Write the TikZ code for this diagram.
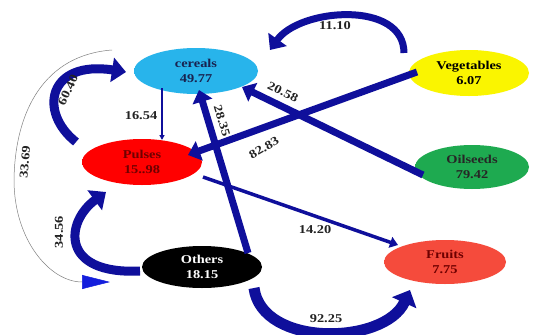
\documentclass[tikz,border=0pt]{standalone}
\usepackage{fontspec}
\setmainfont{Liberation Serif}[FakeStretch=1.2]
\usetikzlibrary{arrows.meta,shapes.geometric}
\definecolor{ab}{RGB}{15,15,155}
\definecolor{tipblue}{RGB}{20,30,220}
\definecolor{cerc}{RGB}{40,180,235}
\definecolor{vegc}{RGB}{250,245,0}
\definecolor{pulc}{RGB}{255,0,0}
\definecolor{oilc}{RGB}{30,170,80}
\definecolor{othc}{RGB}{0,0,0}
\definecolor{fruc}{RGB}{245,75,60}
\definecolor{certext}{RGB}{25,35,80}
\definecolor{redtext}{RGB}{110,0,0}
\definecolor{labtext}{RGB}{35,35,35}
\colorlet{fuzzc}{red}
\pgfdeclareradialshading[fuzzc]{fuzzy}{\pgfpoint{0bp}{0bp}}{color(0bp)=(fuzzc);color(30bp)=(fuzzc);color(42bp)=(fuzzc!70!white);color(50bp)=(fuzzc!10!white)}
\newcommand{\nodefont}{\fontsize{12}{14.5}\selectfont\bfseries}
\tikzset{
  blob/.style={ellipse, inner sep=0pt, align=center, font=\nodefont,
    /utils/exec={\colorlet{fuzzc}{#1}}, shading=fuzzy, shade},
  lab/.style={font=\nodefont, text=labtext, inner sep=0pt},
  bar/.style={draw=ab, line width=7pt, -{Triangle[length=12pt,width=20pt]}},
  band/.style={draw=ab, line width=#1},
  slim/.style={draw=ab, line width=1.2pt, -{Triangle[length=5pt,width=5pt]}},
}
\begin{document}
\begin{tikzpicture}[x=1pt,y=-1pt]
\useasboundingbox[fill=white] (0,0) rectangle (539,335);
% nodes
\node[blob=cerc, minimum width=124pt, minimum height=46pt, text=certext] (cer) at (196,71) {cereals\\49.77};
\node[blob=vegc, minimum width=120pt, minimum height=46pt, text=black] (veg) at (469,73) {Vegetables\\6.07};
\node[blob=pulc, minimum width=120pt, minimum height=46pt, text=redtext] (pul) at (142,162) {Pulses\\15..98};
\node[blob=oilc, minimum width=114pt, minimum height=44pt, text=black!85] (oil) at (472,167) {Oilseeds\\79.42};
\node[blob=othc, minimum width=120pt, minimum height=42pt, text=white] (oth) at (202,267) {Others\\18.15};
\node[blob=fruc, minimum width=122pt, minimum height=44pt, text=redtext] (fru) at (445,262) {Fruits\\7.75};
% thin curved 33.69
\draw[gray, line width=0.5pt, -{Triangle[length=28pt,width=14pt,color=tipblue]}]
  ([shift={(-84,-21)}]cer.center) .. controls (45,55) and (15,110) .. (14,180)
  .. controls (14,240) and (50,282) .. ([shift={(-92,15)}]oth.center);
% curved thick arrows
\draw[band=7pt, -{Triangle[length=13pt,width=22pt]}]
  ([shift={(-65,-20)}]veg.center) .. controls (404,0) and (300,8) .. ([shift={(74,-21)}]cer.center);
\draw[band=9pt, -{Triangle[length=14pt,width=24pt]}]
  ([shift={(-66,-20)}]pul.center) .. controls (38,112) and (48,60) .. ([shift={(-70,1)}]cer.center);
\draw[band=9pt, -{Triangle[length=14pt,width=24pt]}]
  ([shift={(-62,4)}]oth.center) .. controls (60,275) and (65,222) .. ([shift={(-36,30)}]pul.center);
\draw[band=11pt, -{Triangle[length=14pt,width=26pt]}]
  ([shift={(52,21)}]oth.center) .. controls (262,348) and (385,345) .. ([shift={(-35,28)}]fru.center);
% straight arrows
\draw[slim] ([shift={(-34,17)}]cer.center) -- ([shift={(20,-22)}]pul.center);
\draw[bar] ([shift={(46,-14)}]oth.center) -- ([shift={(3,19)}]cer.center);
\draw[bar] ([shift={(-52,-1)}]veg.center) -- ([shift={(46,-7)}]pul.center);
\draw[bar] ([shift={(-49,8)}]oil.center) -- ([shift={(46,16)}]cer.center);
\draw[draw=ab, line width=3.5pt, -{Triangle[length=8pt,width=11pt]}]
  ([shift={(61,15)}]pul.center) -- ([shift={(-47,-17)}]fru.center);
% labels
\node[lab] (l1110) at (335,26) {11.10};
\node[lab, rotate=65] (l6040) at (68,90) {60.40};
\node[lab, rotate=85] (l3369) at (25,162) {33.69};
\node[lab] (l1654) at (141,116) {16.54};
\node[lab, rotate=-73] (l2835) at (222,121) {28.35};
\node[lab, rotate=30] (l8283) at (264,148) {82.83};
\node[lab, rotate=-26] (l2058) at (283,92) {20.58};
\node[lab] (l1420) at (315,230) {14.20};
\node[lab, rotate=90] (l3456) at (59,232) {34.56};
\node[lab] (l9225) at (326,319) {92.25};
\end{tikzpicture}
\end{document}
